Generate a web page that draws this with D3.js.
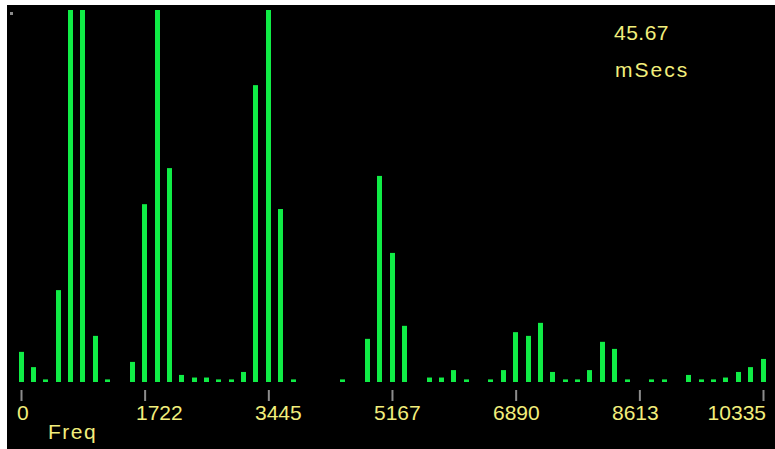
<!DOCTYPE html>
<html>
<head>
<meta charset="utf-8">
<script src="https://cdn.jsdelivr.net/npm/d3@7"></script>
<style>
  html, body { margin: 0; padding: 0; background: #ffffff; }
  svg { display: block; }
  text { font-family: "Liberation Sans", Arial, sans-serif; }
</style>
</head>
<body>
<svg id="chart" width="775" height="449"></svg>
<script>
// Spectrum analyser: magnitude per FFT bin (percent of full scale)
const binHz = 44100 / 256;
const magnitudes = [
  8.1, 4.0, 0.7, 24.7, 100, 100, 12.4, 0.7, 0, 5.4,
  47.8, 100, 57.5, 1.9, 1.2, 1.2, 0.7, 0.7, 2.7, 79.8,
  100, 46.5, 0.7, 0, 0, 0, 0.7, 0, 11.6, 55.4,
  34.7, 15.1, 0, 1.2, 1.2, 3.2, 0.7, 0, 0.7, 3.2,
  13.4, 12.4, 15.9, 2.7, 0.7, 0.7, 3.2, 10.8, 8.9, 0.7,
  0, 0.7, 0.7, 0, 1.9, 0.7, 0.7, 1.2, 2.7, 4.0,
  6.2
];
const tickValues = [0, 1722, 3445, 5167, 6890, 8613, 10335];
const tickLabels = ["0", "1722", "3445", "5167", "6890", "8613", "10335"];
const timeValue = "45.67";
const timeUnit = "mSecs";
const axisTitle = "Freq";

const svg = d3.select("#chart");
const W = 775, H = 449;

// screen panel
svg.append("rect")
  .attr("x", 7).attr("y", 5)
  .attr("width", W - 7).attr("height", H - 5)
  .attr("fill", "#000000");
svg.append("rect")
  .attr("x", 10).attr("y", 12).attr("width", 3).attr("height", 3)
  .attr("fill", "#8a8a8a");

const x = d3.scaleLinear().domain([0, 10335]).range([21, 763]);
const y = d3.scaleLinear().domain([0, 100]).range([382, 10]).clamp(true);
const barW = 5;

// bars
svg.append("g")
  .selectAll("rect")
  .data(magnitudes.map((v, i) => ({ f: i * binHz, v })).filter(d => d.v > 0))
  .join("rect")
  .attr("x", d => Math.round(x(d.f) - barW / 2))
  .attr("y", d => y(d.v))
  .attr("width", barW)
  .attr("height", d => y(0) - y(d.v))
  .attr("fill", "#10ec46");

// frequency axis: ticks
const axis = d3.axisBottom(x)
  .tickValues(tickValues)
  .tickSize(11)
  .tickFormat("");
const gAxis = svg.append("g")
  .attr("transform", "translate(0,390)")
  .call(axis);
gAxis.select(".domain").remove();
gAxis.selectAll(".tick line")
  .attr("stroke", "#8c8c8c")
  .attr("stroke-width", 2);

// frequency labels, stepped left so they fit the panel
const labelStep = 119, labelStart = 17, labelRight = 766;
const gLab = svg.append("g");
gLab.selectAll("text")
  .data(tickLabels)
  .join("text")
  .attr("y", 420)
  .attr("font-size", 21)
  .attr("fill", "#f2ee7c")
  .text(d => d)
  .each(function(d, k) {
    const w = this.getComputedTextLength();
    const lx = Math.min(labelStart + labelStep * k, labelRight - w);
    d3.select(this).attr("x", lx);
  });

svg.append("text")
  .attr("x", 48).attr("y", 439)
  .attr("font-size", 21)
  .attr("letter-spacing", 1.5)
  .attr("fill", "#f2ee7c")
  .text(axisTitle);

svg.append("text")
  .attr("x", 614).attr("y", 40)
  .attr("font-size", 21)
  .attr("letter-spacing", 0.5)
  .attr("fill", "#f2ee7c")
  .text(timeValue);

svg.append("text")
  .attr("x", 615).attr("y", 77)
  .attr("font-size", 21)
  .attr("letter-spacing", 2)
  .attr("fill", "#f2ee7c")
  .text(timeUnit);
</script>
</body>
</html>
